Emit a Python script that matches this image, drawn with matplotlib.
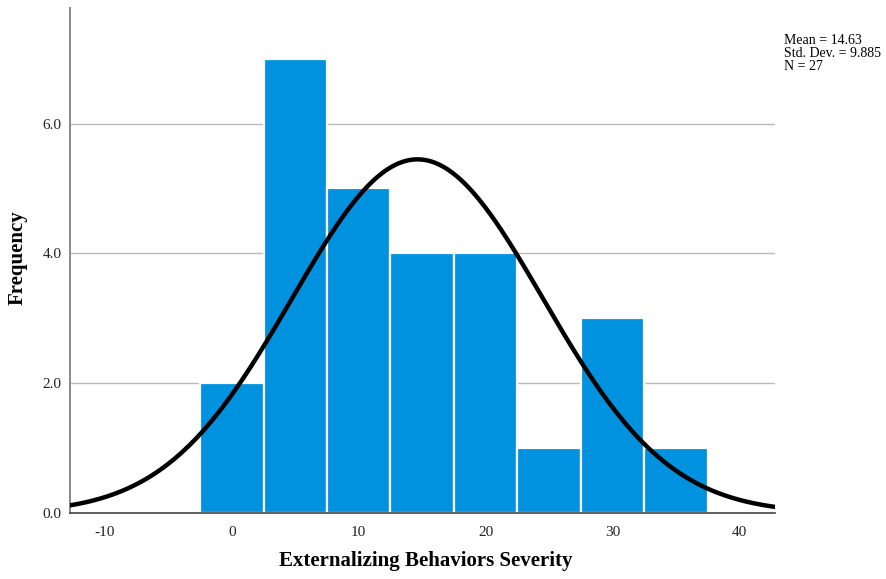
import numpy as np
import matplotlib.pyplot as plt

# histogram bins (width 5) and counts
bin_edges = [-2.5, 2.5, 7.5, 12.5, 17.5, 22.5, 27.5, 32.5, 37.5]
counts = [2, 7, 5, 4, 4, 1, 3, 1]
mean = 14.63
std = 9.885
n = 27

plt.rcParams['font.family'] = ['Liberation Serif', 'DejaVu Serif']
plt.rcParams['axes.unicode_minus'] = False

fig = plt.figure(figsize=(8.86, 5.79), dpi=100)
ax = fig.add_axes([70 / 886, 66 / 579, 705 / 886, 505 / 579])

lefts = np.array(bin_edges[:-1])
widths = np.diff(bin_edges)
ax.bar(lefts, counts, width=widths, align='edge', color='#0092DF',
       edgecolor='white', linewidth=1.6, zorder=2)

# normal curve scaled to the histogram
xmin, xmax = -12.75, 42.8
xs = np.linspace(xmin, xmax, 400)
bw = widths[0]
ys = n * bw / (std * np.sqrt(2 * np.pi)) * np.exp(-0.5 * ((xs - mean) / std) ** 2)
ax.plot(xs, ys, color='black', linewidth=3.2, zorder=3, solid_capstyle='round')

ax.set_xlim(xmin, xmax)
ax.set_ylim(0, 7.78)
ax.set_yticks([0, 2, 4, 6])
ax.set_yticklabels(['0.0', '2.0', '4.0', '6.0'])
ax.set_xticks([-10, 0, 10, 20, 30, 40])
ax.tick_params(axis='both', length=0, labelsize=11, colors='#222222')
ax.tick_params(axis='x', pad=9)
ax.tick_params(axis='y', pad=6)
ax.grid(axis='y', color='#bbbbbb', linewidth=1, zorder=0)
ax.set_axisbelow(True)

for side in ['top', 'right']:
    ax.spines[side].set_visible(False)
ax.spines['left'].set_color('#888888')
ax.spines['left'].set_linewidth(1.4)
ax.spines['bottom'].set_color('#444444')
ax.spines['bottom'].set_linewidth(1.2)

# axis titles placed on the figure
fig.text(426 / 886, 1 - 561 / 579, 'Externalizing Behaviors Severity',
         fontsize=15, fontweight='bold', ha='center', va='center')
fig.text(18 / 886, 1 - 258 / 579, 'Frequency', fontsize=15, fontweight='bold',
         rotation=90, ha='center', va='center')

fig.text(784 / 886, 1 - 34 / 579,
         f'Mean = {mean}\nStd. Dev. = {std}\nN = {n}',
         fontsize=10, va='top', ha='left', linespacing=1.0)

fig.savefig('out.png', dpi=100)
